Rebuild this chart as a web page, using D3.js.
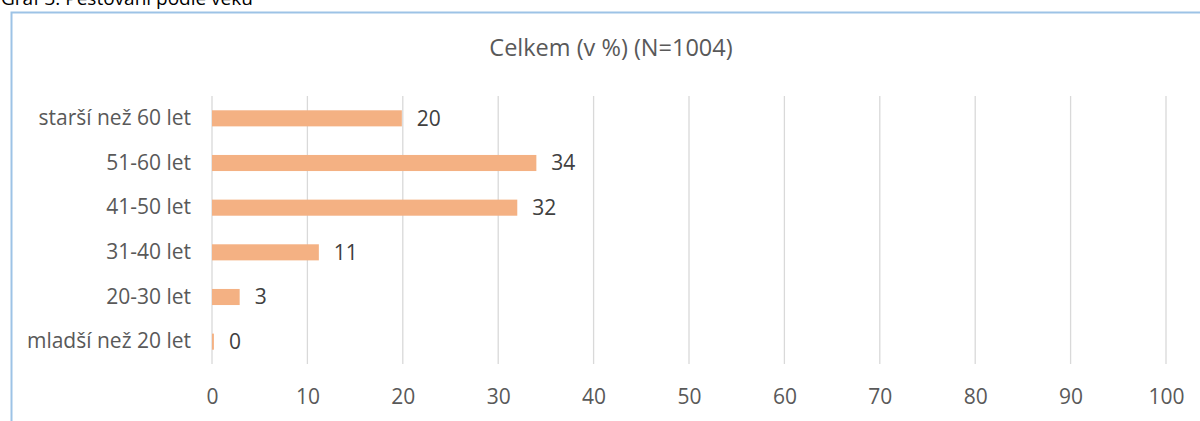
<!DOCTYPE html>
<html>
<head>
<meta charset="utf-8">
<script src="https://cdn.jsdelivr.net/npm/d3@7"></script>
<style>
  body { margin: 0; background: #fff; }
  svg { display: block; font-family: "Open Sans", sans-serif; }
</style>
</head>
<body>
<div id="chart"></div>
<script>
// categories top to bottom, values in %
const categories = ["starší než 60 let", "51-60 let", "41-50 let", "31-40 let", "20-30 let", "mladší než 20 let"];
const values = [19.9, 34, 32, 11.2, 2.9, 0.2];
const tickValues = [0, 10, 20, 30, 40, 50, 60, 70, 80, 90, 100];

const width = 1200, height = 421;
const margin = { top: 96, right: 34, bottom: 57, left: 212 };
const fontFam = "'Open Sans', sans-serif";
const labelSize = "21px";

const svg = d3.select("#chart")
  .append("svg")
  .attr("width", width)
  .attr("height", height);

// caption above the frame, mostly cut off
svg.append("text")
  .attr("x", 1)
  .attr("y", 5)
  .style("font-size", "19px")
  .attr("fill", "#000")
  .text("Graf 3: Pěstování podle věku");

// chart frame (top + left edge visible)
svg.append("path")
  .attr("d", `M11.5,${height} V12.5 H${width}`)
  .attr("fill", "none")
  .attr("stroke", "#9dc3e6")
  .attr("stroke-width", 2);

const x = d3.scaleLinear()
  .domain([0, 100])
  .range([margin.left, width - margin.right]);

const y = d3.scaleBand()
  .domain(categories)
  .range([margin.top, height - margin.bottom])
  .paddingInner(0.64)
  .paddingOuter(0.32);

// grid
svg.append("g")
  .selectAll("line")
  .data(tickValues)
  .enter()
  .append("line")
  .attr("x1", d => x(d))
  .attr("x2", d => x(d))
  .attr("y1", margin.top)
  .attr("y2", height - margin.bottom)
  .attr("stroke", "#d9d9d9")
  .attr("stroke-width", 1.3);

// x axis labels
const xAxis = svg.append("g")
  .attr("transform", `translate(0, ${height - margin.bottom})`)
  .call(d3.axisBottom(x).tickValues(tickValues).tickSize(0).tickPadding(25));
xAxis.select(".domain").remove();
xAxis.selectAll("text")
  .style("font-size", labelSize)
  .style("font-family", fontFam)
  .attr("fill", "#595959");

// y axis labels
const yAxis = svg.append("g")
  .attr("transform", `translate(${margin.left}, 0)`)
  .call(d3.axisLeft(y).tickSize(0).tickPadding(21));
yAxis.select(".domain").remove();
yAxis.selectAll("text")
  .style("font-size", labelSize)
  .style("font-family", fontFam)
  .attr("fill", "#595959");

// bars
svg.append("g")
  .selectAll("rect")
  .data(values)
  .enter()
  .append("rect")
  .attr("x", x(0))
  .attr("y", (d, i) => y(categories[i]))
  .attr("width", d => x(d) - x(0))
  .attr("height", y.bandwidth())
  .attr("fill", "#f4b183");

// data labels
svg.append("g")
  .selectAll("text")
  .data(values)
  .enter()
  .append("text")
  .attr("x", d => x(d) + 15)
  .attr("y", (d, i) => y(categories[i]) + y.bandwidth() / 2)
  .attr("dy", "0.35em")
  .style("font-size", labelSize)
  .attr("fill", "#404040")
  .text(d => Math.round(d));

// title
svg.append("text")
  .attr("x", 611)
  .attr("y", 56)
  .attr("text-anchor", "middle")
  .style("font-size", "23.5px")
  .attr("fill", "#595959")
  .text("Celkem (v %) (N=1004)");
</script>
</body>
</html>
